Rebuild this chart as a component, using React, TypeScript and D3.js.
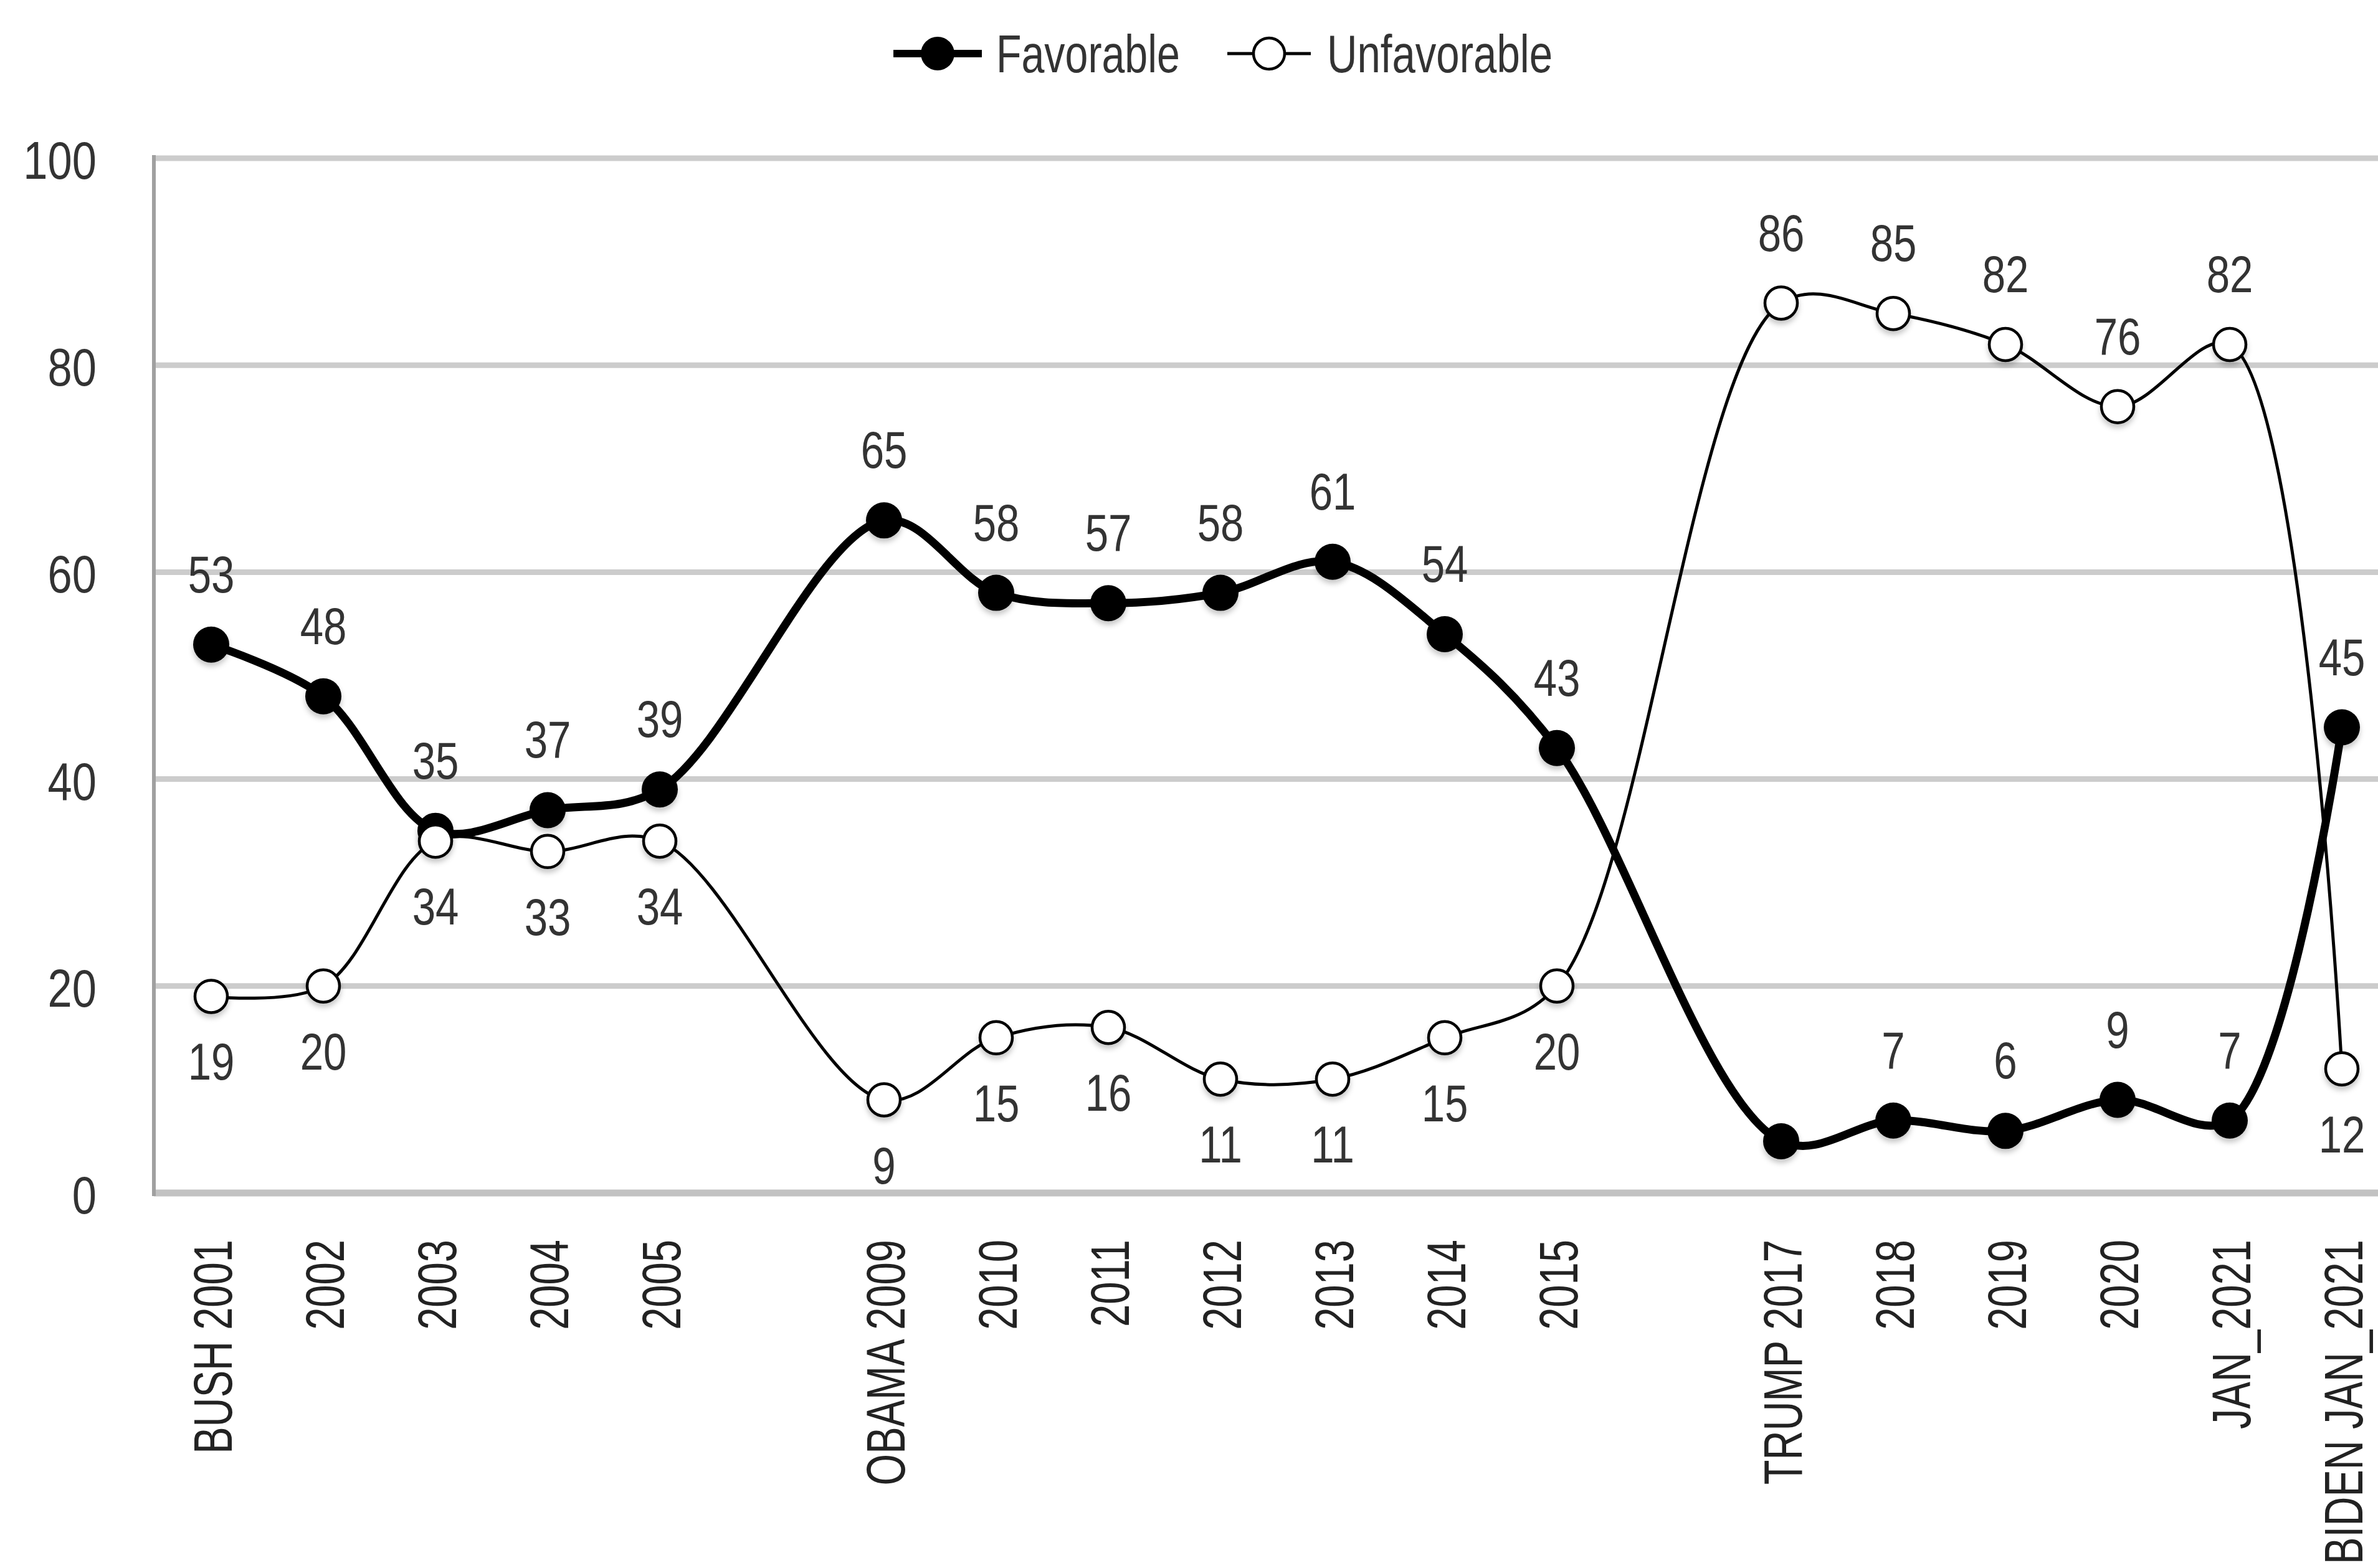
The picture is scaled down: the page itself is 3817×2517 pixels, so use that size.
import * as d3 from "d3";

const categories = [
  "BUSH 2001", "2002", "2003", "2004", "2005", "",
  "OBAMA 2009", "2010", "2011", "2012", "2013", "2014", "2015", "",
  "TRUMP 2017", "2018", "2019", "2020", "JAN_2021", "BIDEN JAN_2021",
];
const favorable: (number | null)[] = [
  53, 48, 35, 37, 39, null, 65, 58, 57, 58, 61, 54, 43, null, 5, 7, 6, 9, 7, 45,
];
const unfavorable: (number | null)[] = [
  19, 20, 34, 33, 34, null, 9, 15, 16, 11, 11, 15, 20, null, 86, 85, 82, 76, 82, 12,
];
const hiddenFavLabels = ["TRUMP 2017"];
const yTicks = [0, 20, 40, 60, 80, 100];

const W = 3817;
const H = 2517;
const axisX = 247;
const font = "'Liberation Sans', Arial, sans-serif";

type Pt = { i: number; v: number };

export default function App() {
  const x = d3
    .scaleBand<number>()
    .domain(d3.range(categories.length))
    .range([axisX + 2, axisX + 2 + categories.length * 180])
    .padding(0);
  const cx = (i: number) => (x(i) ?? 0) + x.bandwidth() / 2;
  const y = d3.scaleLinear().domain([0, 100]).range([1915, 254]);

  const pts = (arr: (number | null)[]): Pt[] =>
    arr.map((v, i) => ({ i, v: v as number })).filter((d) => d.v != null);
  const favPts = pts(favorable);
  const unfPts = pts(unfavorable);

  // excel-like smoothing, centripetal so it doesn't overshoot as much
  const line = d3
    .line<Pt>()
    .x((d) => cx(d.i))
    .y((d) => y(d.v))
    .curve(d3.curveCatmullRom.alpha(0.5));

  const label = (key: string, px: number, py: number, txt: string) => (
    <g key={key} transform={`translate(${px},${py}) scale(0.8,1)`}>
      <text textAnchor="middle" fontSize={84} fill="#333" fontFamily={font}>
        {txt}
      </text>
    </g>
  );

  return (
    <svg
      width={W}
      height={H}
      style={{ position: "absolute", left: 0, top: 0, background: "#fff" }}
    >
      <defs>
        <filter id="shadow" x="-50%" y="-50%" width="200%" height="200%">
          <feDropShadow dx="0" dy="6" stdDeviation="4" floodColor="#000" floodOpacity="0.22" />
        </filter>
      </defs>
      <rect width={W} height={H} fill="#fff" />

      {/* legend */}
      <line x1={1434} x2={1576} y1={86} y2={86} stroke="#000" strokeWidth={12} />
      <circle cx={1505} cy={86} r={27} fill="#000" />
      <g transform="translate(1599,116) scale(0.78,1)">
        <text fontSize={85} fill="#333" fontFamily={font}>Favorable</text>
      </g>
      <line x1={1970} x2={2104} y1={86} y2={86} stroke="#000" strokeWidth={5} />
      <circle cx={2037} cy={86} r={25} fill="#fff" stroke="#000" strokeWidth={4.5} />
      <g transform="translate(2130,116) scale(0.79,1)">
        <text fontSize={85} fill="#333" fontFamily={font}>Unfavorable</text>
      </g>

      {/* grid */}
      {yTicks.filter((t) => t > 0).map((t) => (
        <line key={t} x1={axisX} x2={W} y1={y(t)} y2={y(t)} stroke="#cccccc" strokeWidth={9} />
      ))}
      <line x1={axisX} x2={W} y1={y(0)} y2={y(0)} stroke="#c2c2c2" strokeWidth={11} />
      <line x1={axisX} x2={axisX} y1={y(100) - 5} y2={y(0) + 5} stroke="#a0a0a0" strokeWidth={6} />

      {/* y tick labels */}
      {yTicks.map((t) => (
        <g key={t} transform={`translate(155,${y(t) + 33}) scale(0.82,1)`}>
          <text textAnchor="end" fontSize={86} fill="#333" fontFamily={font}>
            {t}
          </text>
        </g>
      ))}

      {/* x tick labels */}
      {categories.map((c, i) =>
        c ? (
          <g key={i} transform={`translate(${cx(i) + 33},1990) rotate(-90) scale(0.74,1)`}>
            <text textAnchor="end" fontSize={88} fill="#222" fontFamily={font}>
              {c}
            </text>
          </g>
        ) : null,
      )}

      {/* favorable */}
      <path d={line(favPts) ?? ""} fill="none" stroke="#000" strokeWidth={13} />
      <g filter="url(#shadow)">
        {favPts.map((d) => (
          <circle key={d.i} cx={cx(d.i)} cy={y(d.v)} r={29} fill="#000" />
        ))}
      </g>

      {/* unfavorable */}
      <path d={line(unfPts) ?? ""} fill="none" stroke="#000" strokeWidth={5} />
      <g filter="url(#shadow)">
        {unfPts.map((d) => (
          <circle key={d.i} cx={cx(d.i)} cy={y(d.v)} r={26} fill="#fff" stroke="#000" strokeWidth={4.5} />
        ))}
      </g>

      {/* data labels */}
      {favPts
        .filter((d) => !hiddenFavLabels.includes(categories[d.i]))
        .map((d) => label(`f${d.i}`, cx(d.i), y(d.v) - 84, String(d.v)))}
      {unfPts.map((d) => {
        const f = favorable[d.i] ?? 0;
        const above = d.v > f;
        return label(`u${d.i}`, cx(d.i), above ? y(d.v) - 84 : y(d.v) + 134, String(d.v));
      })}
    </svg>
  );
}
